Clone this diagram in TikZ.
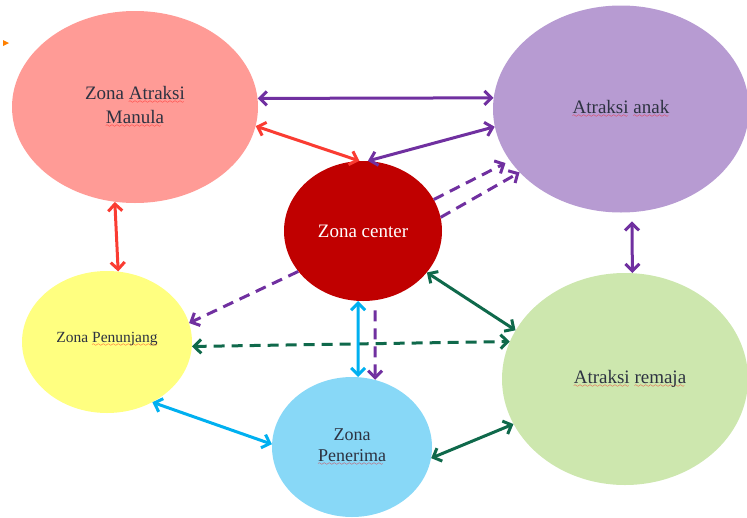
\documentclass[tikz,border=0pt]{standalone}
\usepackage{fontspec}
\setmainfont{Liberation Serif}
\usepackage{tikz}
\usetikzlibrary{shapes.geometric, arrows.meta}

\definecolor{manulac}{HTML}{FF9B96}
\definecolor{anakc}{HTML}{B79BD2}
\definecolor{centerc}{HTML}{C00000}
\definecolor{penunjangc}{HTML}{FFFF80}
\definecolor{penerimac}{HTML}{88D8F7}
\definecolor{remajac}{HTML}{CDE7AE}
\definecolor{txtc}{RGB}{45,50,65}
\definecolor{purplea}{HTML}{7030A0}
\definecolor{reda}{RGB}{250,60,50}
\definecolor{greena}{RGB}{15,105,75}
\definecolor{bluea}{HTML}{00B0F0}

% red wavy mark under a word
\font\wavefont=lasy6
\newsavebox{\spellbox}
\newcommand{\spell}[1]{\sbox{\spellbox}{#1}\rlap{\textcolor{red}{\lower4pt\hbox to \wd\spellbox{\leaders\hbox{\wavefont\char58}\hfill}}}\usebox{\spellbox}}

\tikzstyle{zone} = [ellipse, inner sep=0pt, align=center, text=txtc, font=\fontsize{19}{24}\selectfont]
\tikzstyle{link} = [line width=3pt, <->, >={Straight Barb[length=7pt,width=14pt]}]
\tikzstyle{dlink} = [line width=3pt, dash pattern=on 11pt off 7pt, ->, >={Straight Barb[length=7pt,width=14pt]}]

\begin{document}
\begin{tikzpicture}[x=1pt, y=-1pt]
\useasboundingbox (0,0) rectangle (747,517);

\node (manula) [zone, fill=manulac, minimum width=246pt, minimum height=192pt] at (135,107) {Zona \spell{Atraksi}\\\spell{Manula}};
\node (anak) [zone, fill=anakc, minimum width=256pt, minimum height=207pt] at (621,109) {\spell{Atraksi} \spell{anak}};
\node (center) [zone, fill=centerc, text=white, minimum width=158pt, minimum height=140pt] at (363,231) {Zona center};
\node (penunjang) [zone, fill=penunjangc, minimum width=170pt, minimum height=142pt, font=\fontsize{15.5}{19}\selectfont] at (107,342) {\raisebox{10pt}{Zona \spell{Penunjang}}};
\node (penerima) [zone, fill=penerimac, minimum width=160pt, minimum height=140pt, font=\fontsize{18}{21}\selectfont] at (352,447) {Zona\\\spell{Penerima}};
\node (remaja) [zone, fill=remajac, minimum width=246pt, minimum height=212pt] at (625,379) {\hspace*{10pt}\spell{Atraksi} \spell{remaja}};

\fill [orange] (3,40) -- (9,43) -- (3,46) -- cycle;

\draw [link, purplea] (manula.4) -- (anak.175);
\draw [link, reda] (manula.-9) -- (center.93);
\draw [link, purplea] (center.86) -- (anak.-172);
\draw [dlink, purplea, shorten >=5pt] (center.24) -- (anak.-155);
\draw [dlink, purplea] (center.10) -- (anak.-148);
\draw [link, reda] (manula.-102) -- (penunjang.81);
\draw [link, purplea, shorten <=9pt] (anak.-84) -- (remaja.86);
\draw [dlink, purplea] (center.-148) -- (penunjang.13);
\draw [dlink, greena, <->] (penunjang.-3) -- (remaja.162);
\draw [link, bluea] (center.-94) -- (penerima.85);
\draw [dlink, purplea, shorten <=10pt] (center.-80) -- (penerima.71);
\draw [link, greena] (center.-33) -- (remaja.156);
\draw [link, bluea] (penunjang.-53) -- (penerima.178);
\draw [link, greena] (penerima.-8) -- (remaja.-158);
\end{tikzpicture}
\end{document}
